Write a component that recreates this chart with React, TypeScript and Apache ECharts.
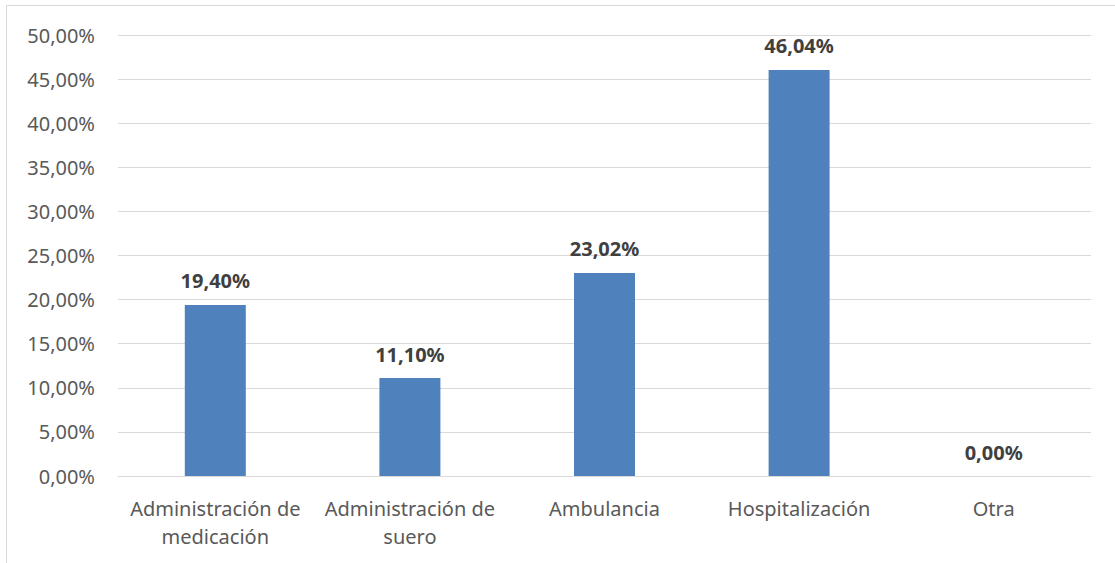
import React, { useEffect, useRef } from "react";
import * as echarts from "echarts";

const categories = [
  "Administración de\nmedicación",
  "Administración de\nsuero",
  "Ambulancia",
  "Hospitalización",
  "Otra",
];
const values = [19.4, 11.1, 23.02, 46.04, 0.0];
const yMin = 0;
const yMax = 50;
const yInterval = 5;

const fmt = (v: number) => v.toFixed(2).replace(".", ",") + "%";

export default function App() {
  const ref = useRef<HTMLDivElement>(null);
  useEffect(() => {
    if (!ref.current) return;
    const chart = echarts.init(ref.current, undefined, { renderer: "svg" });
    const font = "'Noto Sans', 'Open Sans', sans-serif";
    chart.setOption({
      animation: false,
      backgroundColor: "#ffffff",
      graphic: [
        {
          type: "rect",
          shape: { x: 6.5, y: 5.5, width: 1200, height: 700 },
          style: { fill: "none", stroke: "#d9d9d9", lineWidth: 1 },
          silent: true,
        },
      ],
      grid: { left: 118, right: 24, top: 35, bottom: 87, containLabel: false },
      xAxis: {
        type: "category",
        data: categories,
        axisLine: { show: true, lineStyle: { color: "#d9d9d9", width: 1 } },
        axisTick: { show: false },
        axisLabel: {
          color: "#595959",
          fontSize: 20,
          fontFamily: font,
          lineHeight: 28,
          margin: 18,
          interval: 0,
        },
      },
      yAxis: {
        type: "value",
        min: yMin,
        max: yMax,
        interval: yInterval,
        axisLine: { show: false },
        axisTick: { show: false },
        splitLine: { lineStyle: { color: "#d9d9d9", width: 1 } },
        axisLabel: {
          color: "#595959",
          fontSize: 20,
          fontFamily: font,
          margin: 23,
          formatter: (v: number) => fmt(v),
        },
      },
      series: [
        {
          type: "bar",
          data: values,
          barWidth: 61,
          itemStyle: { color: "#4f81bd" },
          label: {
            show: true,
            position: "top",
            distance: 14,
            color: "#404040",
            fontSize: 20,
            fontWeight: "bold",
            fontFamily: font,
            formatter: (p: any) => fmt(p.value),
          },
        },
      ],
    });
    return () => chart.dispose();
  }, []);
  return (
    <div
      ref={ref}
      style={{ position: "fixed", left: 0, top: 0, width: 1115, height: 563 }}
    />
  );
}
